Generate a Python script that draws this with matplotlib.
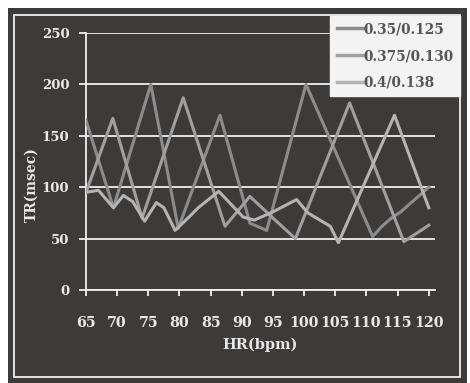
import matplotlib
matplotlib.use("Agg")
import matplotlib.pyplot as plt
from matplotlib.patches import Rectangle

# ---- data ----
labels = ["0.35/0.125", "0.375/0.130", "0.4/0.138"]
x_ticks = [65, 70, 75, 80, 85, 90, 95, 100, 105, 110, 115, 120]
y_ticks = [0, 50, 100, 150, 200, 250]

a_x = [65, 69.4, 75.4, 79.8, 86.5, 91.3, 94, 100.3, 111, 112.5, 114, 115.5, 117, 118.5, 120]
a_y = [165, 80, 200, 60, 170, 65, 58, 200, 52, 62, 70, 76, 84, 92, 100]

b_x = [65, 69.3, 74, 80.6, 87.3, 91.3, 95, 98.6, 107.3, 116, 120]
b_y = [95, 167, 70, 187, 62, 91, 70, 50, 182, 47, 63]

c_x = [65, 67, 69.4, 71, 72.5, 74.4, 76.3, 77.5, 79.3, 81.7, 83, 86.3, 90.2,
       92, 95, 98.8, 100.6, 104.2, 105.5, 114.5, 120]
c_y = [95, 97, 80, 92, 86, 67, 85, 80, 58, 72, 80, 96, 71,
       68, 76, 88, 75, 62, 46, 170, 80]

colors = ["#8c8c8c", "#a0a0a0", "#b4b4b4"]

W, H = 470, 383
fig = plt.figure(figsize=(W / 100, H / 100), dpi=100, facecolor="white")

bg = "#3d3a3a"
panel = Rectangle((8 / W, 0), (467 - 8) / W, (383 - 8) / H,
                  transform=fig.transFigure, facecolor=bg, edgecolor="none")
panel.set_zorder(-10)
fig.add_artist(panel)
frame = Rectangle((14 / W, 1 - 377 / H), (460 - 14) / W, (377 - 15) / H,
                  transform=fig.transFigure, facecolor="none",
                  edgecolor="#f0f0f0", lw=1.3)
frame.set_zorder(-9)
fig.add_artist(frame)

ax = fig.add_axes([86 / W, 1 - 290 / H, (435 - 86) / W, (290 - 33) / H])
ax.set_facecolor("none")
ax.set_zorder(2)

font = "DejaVu Serif"
txt = "#e8e8e8"

for xs, ys, c, lab in zip([a_x, b_x, c_x], [a_y, b_y, c_y], colors, labels):
    ax.plot(xs, ys, color=c, lw=2.2, label=lab, zorder=3)

ax.set_xlim(65, 121)
ax.set_ylim(0, 250)
ax.set_yticks(y_ticks)
ax.set_xticks(x_ticks)
ax.set_yticklabels([str(v) for v in y_ticks], fontfamily=font, fontweight="bold",
                   fontsize=9.5, color=txt)
ax.set_xticklabels([str(v) for v in x_ticks], fontfamily=font, fontweight="bold",
                   fontsize=10.3, color=txt)
ax.yaxis.grid(True, color="#f0f0f0", lw=1.3, zorder=1)
ax.xaxis.grid(False)
ax.set_axisbelow(True)
for s in ["top", "right"]:
    ax.spines[s].set_visible(False)
for s in ["left", "bottom"]:
    ax.spines[s].set_color("#f0f0f0")
    ax.spines[s].set_linewidth(1.3)
ax.tick_params(axis="y", direction="out", length=5, width=1.3, color="#f0f0f0", pad=7)
ax.tick_params(axis="x", direction="out", length=4, width=1.3, color="#f0f0f0", pad=15)

ax.set_xlabel("HR(bpm)", fontfamily=font, fontweight="bold", fontsize=10.5,
              color=txt, labelpad=5)
ax.set_ylabel("TR(msec)", fontfamily=font, fontweight="bold", fontsize=10,
              color=txt)
ax.yaxis.set_label_coords(-0.135, 0.41)

leg = ax.legend(loc="upper right", bbox_to_anchor=(460 / W, 1 - 16 / H),
                bbox_transform=fig.transFigure,
                frameon=True, fancybox=False, borderaxespad=0, handlelength=2.0,
                handletextpad=0.0, labelspacing=0.95, borderpad=0.45,
                prop={"family": font, "weight": "bold", "size": 9.8})
leg.get_frame().set_facecolor("#f3f3f3")
leg.get_frame().set_edgecolor("#f3f3f3")
leg.get_frame().set_alpha(1)
for t in leg.get_texts():
    t.set_color("#555555")
for l in leg.get_lines():
    l.set_linewidth(2.5)
leg.set_zorder(5)

fig.savefig("out.png", dpi=100, facecolor="white")
